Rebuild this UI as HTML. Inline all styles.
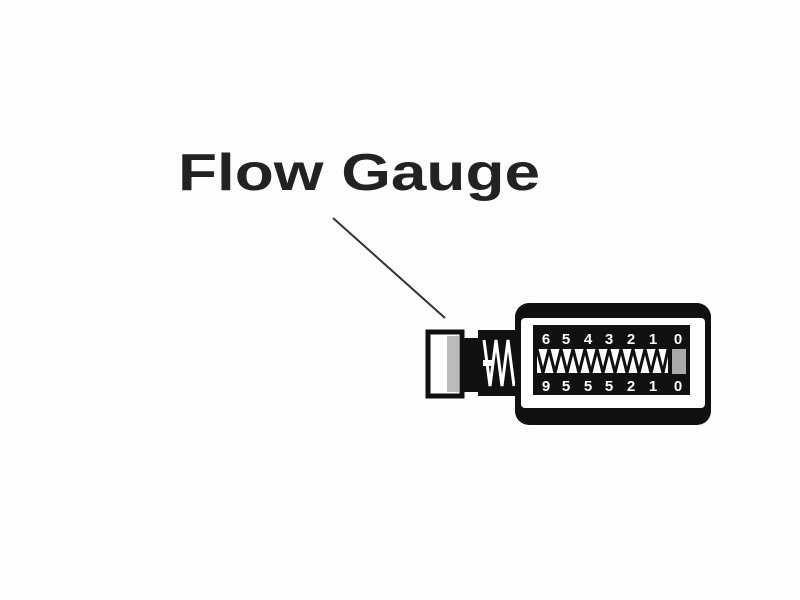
<!DOCTYPE html>
<html><head><style>body{margin:0;background:#fff}svg{display:block}</style></head><body>
<svg width="800" height="600" viewBox="0 0 800 600" xmlns="http://www.w3.org/2000/svg">
<rect width="800" height="600" fill="#fdfdfd"/>
<text x="178" y="190" font-family="Liberation Sans, sans-serif" font-weight="bold" font-size="52" textLength="362" lengthAdjust="spacingAndGlyphs" fill="#222">Flow Gauge</text>
<line x1="333" y1="218" x2="445" y2="318" stroke="#333" stroke-width="2"/>
<rect x="428" y="332" width="34" height="64" fill="#fff" stroke="#111" stroke-width="5"/>
<rect x="447" y="336" width="12" height="56" fill="#bbb"/>
<rect x="462" y="338" width="18" height="54" fill="#111"/>
<rect x="478" y="330" width="40" height="66" fill="#111"/>
<path d="M484 340 L490 386 L496 340 L502 386 L508 340 L514 386" stroke="#fff" stroke-width="3" fill="none"/>
<rect x="483" y="360" width="10" height="6" fill="#fff"/>
<rect x="515" y="303" width="196" height="122" rx="14" fill="#111"/>
<rect x="521" y="318" width="184" height="90" rx="4" fill="#fff"/>
<rect x="533" y="325" width="157" height="70" fill="#111"/>
<g font-family="Liberation Sans, sans-serif" font-weight="bold" font-size="15" fill="#fff" text-anchor="middle">
<text x="546" y="344">6</text><text x="566" y="344">5</text><text x="588" y="344">4</text><text x="609" y="344">3</text><text x="631" y="344">2</text><text x="653" y="344">1</text><text x="678" y="344">0</text>
<text x="546" y="391">9</text><text x="566" y="391">5</text><text x="588" y="391">5</text><text x="609" y="391">5</text><text x="631" y="391">2</text><text x="653" y="391">1</text><text x="678" y="391">0</text>
</g>
<rect x="537" y="349" width="131" height="24" fill="#fff"/>
<path d="M537 349 L543 373 L549 349 L555 373 L561 349 L567 373 L573 349 L579 373 L585 349 L591 373 L597 349 L603 373 L609 349 L615 373 L621 349 L627 373 L633 349 L639 373 L645 349 L651 373 L657 349 L663 373 L668 349" stroke="#111" stroke-width="3" fill="none"/>
<rect x="672" y="349" width="14" height="25" fill="#aaa"/>
</svg>
</body></html>
